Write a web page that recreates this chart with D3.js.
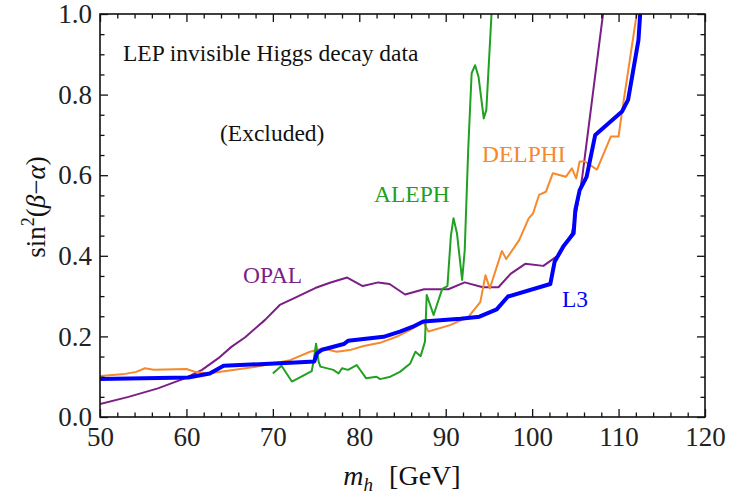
<!DOCTYPE html>
<html>
<head>
<meta charset="utf-8">
<script src="https://cdn.jsdelivr.net/npm/d3@7"></script>
<style>
  body { margin: 0; background: #fff; }
  text { font-family: "Liberation Serif", "DejaVu Serif", serif; }
</style>
</head>
<body>
<svg id="chart" width="730" height="500"></svg>
<script>
// values (m_h in GeV, sin^2(beta-alpha))
var opal = [[50,0.032],[53.3,0.05],[56.7,0.071],[59.8,0.096],[61.8,0.117],[63.7,0.146],[65.2,0.174],[66.8,0.198],[69.1,0.241],[70.8,0.278],[72.6,0.296],[74.9,0.32],[76.6,0.333],[78.6,0.346],[80.4,0.325],[82.2,0.334],[83.5,0.33],[85.3,0.304],[87.5,0.317],[90.3,0.317],[92.2,0.334],[94.3,0.322],[96.1,0.322],[97.5,0.355],[99.2,0.38],[101.3,0.375],[103.2,0.404],[104.6,0.456],[105.2,0.52],[105.8,0.596],[108.2,1.0]];

var delphi = [[50,0.102],[52.9,0.107],[54.2,0.112],[55.2,0.121],[56.2,0.117],[60.0,0.119],[61.0,0.112],[62.5,0.108],[65.6,0.117],[68.7,0.127],[70.0,0.133],[72.0,0.141],[74.3,0.162],[75.8,0.17],[77.4,0.162],[78.9,0.166],[80.5,0.176],[82.4,0.184],[84.3,0.199],[85.9,0.216],[87.4,0.236],[88.0,0.212],[90.5,0.228],[92.6,0.248],[94.0,0.285],[94.6,0.352],[95.1,0.319],[96.5,0.412],[97.0,0.392],[98.5,0.439],[99.6,0.493],[100.1,0.505],[100.8,0.551],[101.6,0.559],[102.4,0.605],[103.9,0.596],[104.6,0.617],[105.1,0.592],[105.5,0.634],[106.1,0.634],[107.5,0.614],[109.1,0.696],[110.0,0.696],[110.4,0.758],[112.1,1.0]];

var aleph = [[70.0,0.108],[71.0,0.127],[72.2,0.088],[73.3,0.100],[74.5,0.114],[74.7,0.137],[75.0,0.182],[75.3,0.137],[75.5,0.125],[77.0,0.117],[77.6,0.108],[78.0,0.121],[78.7,0.117],[79.7,0.129],[80.8,0.096],[82.0,0.100],[82.4,0.094],[83.6,0.100],[84.7,0.112],[85.9,0.133],[86.5,0.162],[87.1,0.151],[87.6,0.187],[87.8,0.303],[88.6,0.253],[89.1,0.286],[89.6,0.318],[90.2,0.325],[90.6,0.45],[90.9,0.493],[91.3,0.456],[91.9,0.34],[92.2,0.414],[92.6,0.662],[93.0,0.853],[93.4,0.873],[93.8,0.844],[94.4,0.741],[94.7,0.762],[95.3,1.0]];

var l3 = [[50,0.094],[60.2,0.098],[62.7,0.108],[64.3,0.127],[72.6,0.135],[74.8,0.138],[75.1,0.158],[75.7,0.167],[78.2,0.181],[78.7,0.189],[82.8,0.199],[84.7,0.212],[86.2,0.224],[87.4,0.237],[91.7,0.244],[93.9,0.249],[95.9,0.267],[97.2,0.299],[102.1,0.33],[102.6,0.385],[103.6,0.423],[104.8,0.456],[105.0,0.514],[105.5,0.563],[106.3,0.596],[107.3,0.7],[110.4,0.758],[111.1,0.787],[112.3,0.935],[112.5,1.0]];

var xTicks = [50, 60, 70, 80, 90, 100, 110, 120];
var yTicks = [0.0, 0.2, 0.4, 0.6, 0.8, 1.0];

var pL = 100, pR = 705, pT = 14, pB = 417; // plot frame in px

var svg = d3.select("#chart");
var x = d3.scaleLinear().domain([50, 120]).range([pL, pR]);
var y = d3.scaleLinear().domain([0, 1]).range([pB, pT]);

svg.append("clipPath").attr("id", "clip")
  .append("rect").attr("x", pL).attr("y", pT).attr("width", pR - pL).attr("height", pB - pT);

var line = d3.line().x(function(d) { return x(d[0]); }).y(function(d) { return y(d[1]); });

var series = [
  { data: opal, color: "#7b1f86", width: 2 },
  { data: delphi, color: "#f5892c", width: 2 },
  { data: aleph, color: "#21a121", width: 2 },
  { data: l3, color: "#0000ff", width: 4 }
];

var plot = svg.append("g").attr("clip-path", "url(#clip)");
series.forEach(function(s) {
  plot.append("path").datum(s.data)
    .attr("d", line)
    .attr("fill", "none")
    .attr("stroke", s.color)
    .attr("stroke-width", s.width)
    .attr("stroke-linejoin", "round");
});

// axes, ticks inward on all four sides
var xMinor = d3.range(50, 121, 2).filter(function(v) { return v % 10 !== 0; });
var yMinor = d3.range(0, 1.001, 0.05).filter(function(v) { return Math.round(v * 100) % 20 !== 0; });

var gB = svg.append("g").attr("transform", "translate(0," + pB + ")")
  .call(d3.axisBottom(x).tickValues(xTicks).tickSize(-8).tickSizeOuter(0).tickFormat(d3.format("d")));
svg.append("g").attr("transform", "translate(0," + pB + ")")
  .call(d3.axisBottom(x).tickValues(xMinor).tickSize(-4.5).tickSizeOuter(0).tickFormat(""));
svg.append("g").attr("transform", "translate(0," + pT + ")")
  .call(d3.axisTop(x).tickValues(xTicks).tickSize(-8).tickSizeOuter(0).tickFormat(""));
svg.append("g").attr("transform", "translate(0," + pT + ")")
  .call(d3.axisTop(x).tickValues(xMinor).tickSize(-4.5).tickSizeOuter(0).tickFormat(""));
var gL = svg.append("g").attr("transform", "translate(" + pL + ",0)")
  .call(d3.axisLeft(y).tickValues(yTicks).tickSize(-8).tickSizeOuter(0).tickFormat(d3.format(".1f")));
svg.append("g").attr("transform", "translate(" + pL + ",0)")
  .call(d3.axisLeft(y).tickValues(yMinor).tickSize(-4.5).tickSizeOuter(0).tickFormat(""));
svg.append("g").attr("transform", "translate(" + pR + ",0)")
  .call(d3.axisRight(y).tickValues(yTicks).tickSize(-8).tickSizeOuter(0).tickFormat(""));
svg.append("g").attr("transform", "translate(" + pR + ",0)")
  .call(d3.axisRight(y).tickValues(yMinor).tickSize(-4.5).tickSizeOuter(0).tickFormat(""));

svg.selectAll(".domain").remove();
svg.selectAll(".tick line").attr("stroke", "#111").attr("stroke-width", 1.3);

gB.selectAll(".tick text").attr("y", 10).attr("dy", "0.71em")
  .style("font-size", "27px").attr("fill", "#222").style("font-family", "Liberation Serif");
gL.selectAll(".tick text").attr("x", -8)
  .style("font-size", "27px").attr("fill", "#222").style("font-family", "Liberation Serif");

svg.append("rect").attr("x", pL).attr("y", pT)
  .attr("width", pR - pL).attr("height", pB - pT)
  .attr("fill", "none").attr("stroke", "#111").attr("stroke-width", 1.6);

// axis titles
var yl = svg.append("text")
  .attr("transform", "translate(45,207) rotate(-90)")
  .attr("text-anchor", "middle").style("font-size", "27px").attr("fill", "#111");
yl.append("tspan").text("sin");
yl.append("tspan").attr("dy", -11).style("font-size", "18px").text("2");
yl.append("tspan").attr("dy", 11).text("(");
yl.append("tspan").style("font-style", "italic").text("β");
yl.append("tspan").text("−");
yl.append("tspan").style("font-style", "italic").text("α");
yl.append("tspan").text(")");

var xl = svg.append("text").attr("x", 402).attr("y", 485)
  .attr("text-anchor", "middle").style("font-size", "28px").attr("fill", "#111");
xl.append("tspan").style("font-style", "italic").text("m");
xl.append("tspan").attr("dy", 6).style("font-size", "19px").style("font-style", "italic").text("h");
xl.append("tspan").attr("dy", -6).attr("dx", 16).text("[GeV]");

// annotations
var notes = [
  { t: "LEP invisible Higgs decay data", x: 123, y: 61, c: "#111" },
  { t: "(Excluded)", x: 220, y: 141, c: "#111" },
  { t: "OPAL", x: 243, y: 283, c: "#7b1f86" },
  { t: "ALEPH", x: 374, y: 202, c: "#21a121" },
  { t: "DELPHI", x: 482, y: 162, c: "#f5892c" },
  { t: "L3", x: 562, y: 307, c: "#0000ff" }
];
notes.forEach(function(n) {
  svg.append("text").attr("x", n.x).attr("y", n.y)
    .style("font-size", "23.5px").attr("fill", n.c).text(n.t);
});
</script>
</body>
</html>
